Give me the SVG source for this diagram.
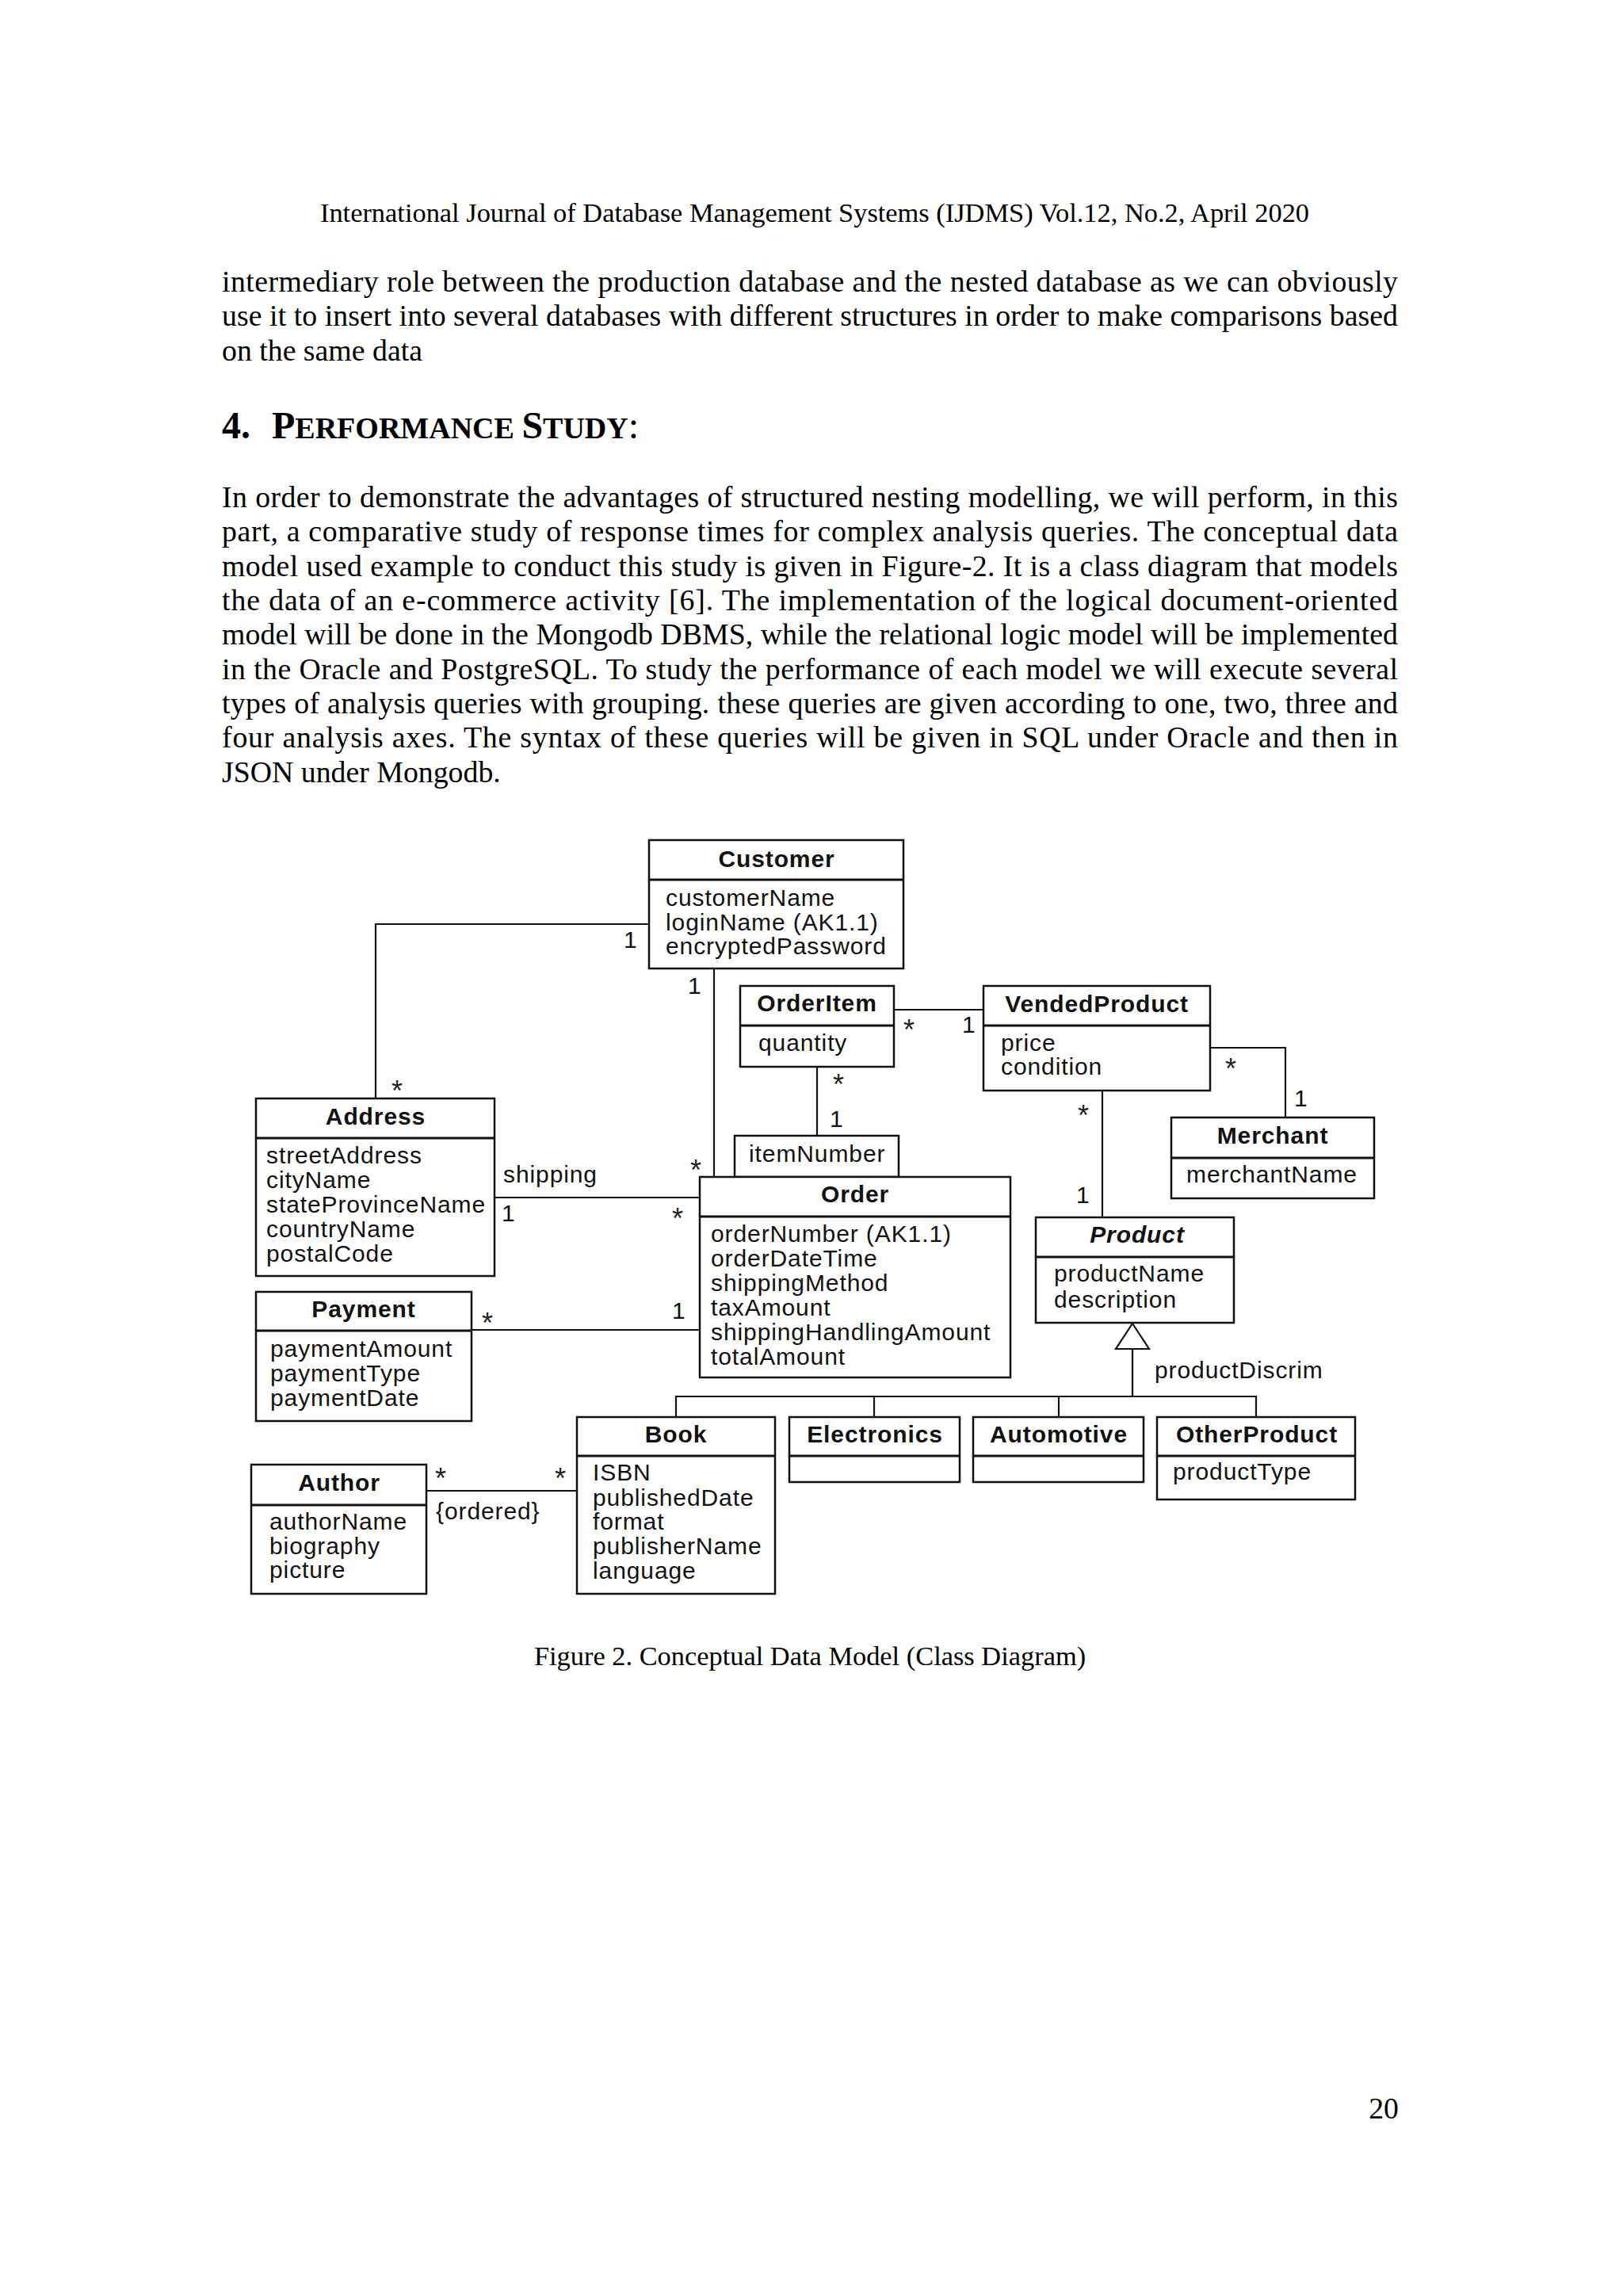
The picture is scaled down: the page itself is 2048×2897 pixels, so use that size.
<svg xmlns="http://www.w3.org/2000/svg" width="2048" height="2897" viewBox="0 0 2048 2897">
<style>
.bg{fill:#fff}
.box{fill:#fff;stroke:#111;stroke-width:2.5}
.dv{stroke:#111;stroke-width:3}
.ln{stroke:#111;stroke-width:2.2;fill:none}
.t{font-family:"Liberation Sans",Arial,sans-serif;font-size:30px;letter-spacing:0.9px;fill:#111}
.tb{font-weight:bold;text-anchor:middle}
.st{font-family:"Liberation Sans",Arial,sans-serif;font-size:36px;fill:#222}
.pg{font-family:"Liberation Serif","Times New Roman",serif;fill:#000}
.p{font-size:37.8px}
</style>
<rect class="bg" x="0" y="0" width="2048" height="2897"/>
<g id="page-text">
<text class="pg" x="1028" y="280" font-size="34.4" text-anchor="middle">International Journal of Database Management Systems (IJDMS) Vol.12, No.2, April 2020</text>
<text class="pg p" x="280" y="368" textLength="1484" lengthAdjust="spacing">intermediary role between the production database and the nested database as we can obviously</text>
<text class="pg p" x="280" y="411" textLength="1484" lengthAdjust="spacing">use it to insert into several databases with different structures in order to make comparisons based</text>
<text class="pg p" x="280" y="455">on the same data</text>
<text class="pg" x="280" y="553" font-size="48" font-weight="bold">4.<tspan x="343">P</tspan><tspan font-size="38">ERFORMANCE </tspan>S<tspan font-size="38">TUDY</tspan><tspan font-weight="normal">:</tspan></text>
<text class="pg p" x="280" y="640" textLength="1484" lengthAdjust="spacing">In order to demonstrate the advantages of structured nesting modelling, we will perform, in this</text>
<text class="pg p" x="280" y="683" textLength="1484" lengthAdjust="spacing">part, a comparative study of response times for complex analysis queries. The conceptual data</text>
<text class="pg p" x="280" y="727" textLength="1484" lengthAdjust="spacing">model used example to conduct this study is given in Figure-2. It is a class diagram that models</text>
<text class="pg p" x="280" y="770" textLength="1484" lengthAdjust="spacing">the data of an e-commerce activity [6]. The implementation of the logical document-oriented</text>
<text class="pg p" x="280" y="813" textLength="1484" lengthAdjust="spacing">model will be done in the Mongodb DBMS, while the relational logic model will be implemented</text>
<text class="pg p" x="280" y="857" textLength="1484" lengthAdjust="spacing">in the Oracle and PostgreSQL. To study the performance of each model we will execute several</text>
<text class="pg p" x="280" y="900" textLength="1484" lengthAdjust="spacing">types of analysis queries with grouping. these queries are given according to one, two, three and</text>
<text class="pg p" x="280" y="943" textLength="1484" lengthAdjust="spacing">four analysis axes. The syntax of these queries will be given in SQL under Oracle and then in</text>
<text class="pg p" x="280" y="987">JSON under Mongodb.</text>
<text class="pg" x="1022" y="2101" font-size="34.4" text-anchor="middle">Figure 2. Conceptual Data Model (Class Diagram)</text>
<text class="pg p" x="1765" y="2673" text-anchor="end">20</text>
</g>
<g id="connectors">
<path class="ln" d="M819 1166 H474 V1386"/>
<line class="ln" x1="901" y1="1222" x2="901" y2="1485"/>
<line class="ln" x1="1128" y1="1274" x2="1241" y2="1274"/>
<line class="ln" x1="1031" y1="1346" x2="1031" y2="1433"/>
<line class="ln" x1="624" y1="1511" x2="883" y2="1511"/>
<line class="ln" x1="595" y1="1678" x2="883" y2="1678"/>
<path class="ln" d="M1527 1322 H1622 V1410"/>
<line class="ln" x1="1391" y1="1376" x2="1391" y2="1536"/>
<line class="ln" x1="538" y1="1881" x2="728" y2="1881"/>
<path class="ln" d="M1429 1670 L1450 1702 H1408 Z" fill="#fff"/>
<line class="ln" x1="1429" y1="1702" x2="1429" y2="1762"/>
<path class="ln" d="M853 1788 V1762 H1585 V1788 M1103 1762 V1788 M1336 1762 V1788"/>
<text class="t" x="787" y="1196">1</text>
<text class="st" x="494" y="1389">*</text>
<text class="t" x="868" y="1254">1</text>
<text class="st" x="871" y="1489">*</text>
<text class="st" x="1140" y="1312">*</text>
<text class="t" x="1214" y="1303">1</text>
<text class="st" x="1051" y="1381">*</text>
<text class="t" x="1047" y="1422">1</text>
<text class="t" x="635" y="1492">shipping</text>
<text class="t" x="633" y="1541">1</text>
<text class="st" x="848" y="1550">*</text>
<text class="st" x="608" y="1682">*</text>
<text class="t" x="848" y="1664">1</text>
<text class="st" x="1546" y="1361">*</text>
<text class="t" x="1633" y="1396">1</text>
<text class="st" x="1360" y="1420">*</text>
<text class="t" x="1358" y="1518">1</text>
<text class="st" x="549" y="1878">*</text>
<text class="st" x="700" y="1878">*</text>
<text class="t" x="550" y="1917" font-size="26" letter-spacing="0.5">{ordered}</text>
<text class="t" x="1457" y="1739">productDiscrim</text>
</g>
<g id="customer">
<rect class="box" x="819" y="1060" width="321" height="162"/>
<line class="dv" x1="819" y1="1110" x2="1140" y2="1110"/>
<text class="t tb" x="980" y="1094">Customer</text>
<text class="t" x="840" y="1143">customerName</text>
<text class="t" x="840" y="1174">loginName (AK1.1)</text>
<text class="t" x="840" y="1204">encryptedPassword</text>
</g>
<g id="address">
<rect class="box" x="323" y="1386" width="301" height="224"/>
<line class="dv" x1="323" y1="1436" x2="624" y2="1436"/>
<text class="t tb" x="474" y="1419">Address</text>
<text class="t" x="336" y="1468">streetAddress</text>
<text class="t" x="336" y="1499">cityName</text>
<text class="t" x="336" y="1530">stateProvinceName</text>
<text class="t" x="336" y="1561">countryName</text>
<text class="t" x="336" y="1592">postalCode</text>
</g>
<g id="payment">
<rect class="box" x="323" y="1630" width="272" height="163"/>
<line class="dv" x1="323" y1="1679" x2="595" y2="1679"/>
<text class="t tb" x="459" y="1662">Payment</text>
<text class="t" x="341" y="1712">paymentAmount</text>
<text class="t" x="341" y="1743">paymentType</text>
<text class="t" x="341" y="1774">paymentDate</text>
</g>
<g id="author">
<rect class="box" x="317" y="1848" width="221" height="163"/>
<line class="dv" x1="317" y1="1899" x2="538" y2="1899"/>
<text class="t tb" x="428" y="1881">Author</text>
<text class="t" x="340" y="1930">authorName</text>
<text class="t" x="340" y="1961">biography</text>
<text class="t" x="340" y="1991">picture</text>
</g>
<g id="orderitem">
<rect class="box" x="934" y="1244" width="194" height="102"/>
<line class="dv" x1="934" y1="1294" x2="1128" y2="1294"/>
<text class="t tb" x="1031" y="1276">OrderItem</text>
<text class="t" x="957" y="1326">quantity</text>
</g>
<g id="order">
<rect class="box" x="927" y="1433" width="207" height="52"/>
<text class="t" x="945" y="1466">itemNumber</text>
<rect class="box" x="883" y="1485" width="392" height="253"/>
<line class="dv" x1="883" y1="1535" x2="1275" y2="1535"/>
<text class="t tb" x="1079" y="1517">Order</text>
<text class="t" x="897" y="1567">orderNumber (AK1.1)</text>
<text class="t" x="897" y="1598">orderDateTime</text>
<text class="t" x="897" y="1629">shippingMethod</text>
<text class="t" x="897" y="1660">taxAmount</text>
<text class="t" x="897" y="1691">shippingHandlingAmount</text>
<text class="t" x="897" y="1722">totalAmount</text>
</g>
<g id="vendedproduct">
<rect class="box" x="1241" y="1244" width="286" height="132"/>
<line class="dv" x1="1241" y1="1294" x2="1527" y2="1294"/>
<text class="t tb" x="1384" y="1277">VendedProduct</text>
<text class="t" x="1263" y="1326">price</text>
<text class="t" x="1263" y="1356">condition</text>
</g>
<g id="merchant">
<rect class="box" x="1478" y="1410" width="256" height="102"/>
<line class="dv" x1="1478" y1="1461" x2="1734" y2="1461"/>
<text class="t tb" x="1606" y="1443">Merchant</text>
<text class="t" x="1497" y="1492">merchantName</text>
</g>
<g id="product">
<rect class="box" x="1307" y="1536" width="250" height="133"/>
<line class="dv" x1="1307" y1="1586" x2="1557" y2="1586"/>
<text class="t tb" x="1435" y="1568" font-style="italic">Product</text>
<text class="t" x="1330" y="1617">productName</text>
<text class="t" x="1330" y="1650">description</text>
</g>
<g id="book">
<rect class="box" x="728" y="1788" width="250" height="223"/>
<line class="dv" x1="728" y1="1837" x2="978" y2="1837"/>
<text class="t tb" x="853" y="1820">Book</text>
<text class="t" x="748" y="1868">ISBN</text>
<text class="t" x="748" y="1900">publishedDate</text>
<text class="t" x="748" y="1930">format</text>
<text class="t" x="748" y="1961">publisherName</text>
<text class="t" x="748" y="1992">language</text>
</g>
<g id="electronics">
<rect class="box" x="996" y="1788" width="215" height="82"/>
<line class="dv" x1="996" y1="1837" x2="1211" y2="1837"/>
<text class="t tb" x="1104" y="1820">Electronics</text>
</g>
<g id="automotive">
<rect class="box" x="1228" y="1788" width="215" height="82"/>
<line class="dv" x1="1228" y1="1837" x2="1443" y2="1837"/>
<text class="t tb" x="1336" y="1820">Automotive</text>
</g>
<g id="otherproduct">
<rect class="box" x="1460" y="1788" width="250" height="104"/>
<line class="dv" x1="1460" y1="1837" x2="1710" y2="1837"/>
<text class="t tb" x="1586" y="1820">OtherProduct</text>
<text class="t" x="1480" y="1867">productType</text>
</g>
</svg>
